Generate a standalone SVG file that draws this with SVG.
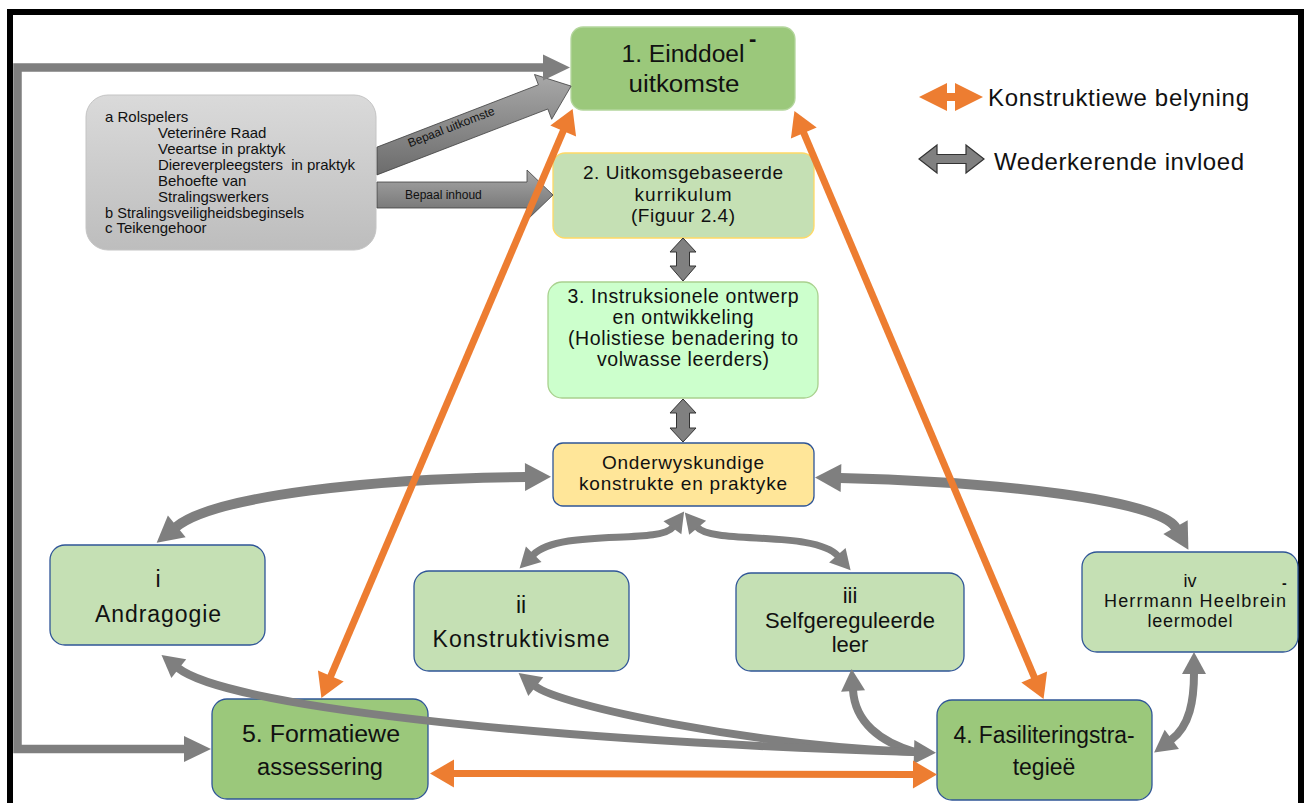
<svg xmlns="http://www.w3.org/2000/svg" width="1309" height="803" viewBox="0 0 1309 803">
  <style>
    text { font-family: "Liberation Sans", Arial, sans-serif; fill: #111; }
    .c { text-anchor: middle; }
    .box { stroke-width: 1.3; }
    .sub { fill: #c5e0b4; stroke: #2f5597; }
    .main { fill: #9bc87b; stroke: #2f5597; }
    .gcurve { fill: none; stroke: #7f7f7f; }
    .orange { fill: none; stroke: #ed7d31; stroke-width: 7; }
    .block { stroke: #3f3f3f; stroke-width: 0.8; }
  </style>
  <defs>
    <linearGradient id="boxGrad" x1="0" y1="0" x2="0" y2="1">
      <stop offset="0" stop-color="#dadada"/>
      <stop offset="1" stop-color="#bdbdbd"/>
    </linearGradient>
    <linearGradient id="blockGrad" x1="0" y1="0" x2="0" y2="1">
      <stop offset="0" stop-color="#a8a8a8"/>
      <stop offset="1" stop-color="#6c6c6c"/>
    </linearGradient>
    <marker id="hgL" markerUnits="userSpaceOnUse" markerWidth="30" markerHeight="30" refX="1" refY="14" orient="auto-start-reverse" overflow="visible">
      <path d="M0,0 L26,14 L0,28 z" fill="#7f7f7f"/>
    </marker>
    <marker id="hgM" markerUnits="userSpaceOnUse" markerWidth="26" markerHeight="26" refX="1" refY="12" orient="auto-start-reverse" overflow="visible">
      <path d="M0,0 L22,12 L0,24 z" fill="#7f7f7f"/>
    </marker>
    <marker id="hgS" markerUnits="userSpaceOnUse" markerWidth="24" markerHeight="24" refX="1" refY="11" orient="auto-start-reverse" overflow="visible">
      <path d="M0,0 L20,11 L0,22 z" fill="#7f7f7f"/>
    </marker>
    <marker id="hgF" markerUnits="userSpaceOnUse" markerWidth="30" markerHeight="30" refX="1" refY="13" orient="auto-start-reverse" overflow="visible">
      <path d="M0,0 L27,13 L0,26 z" fill="#7f7f7f"/>
    </marker>
    <marker id="ho" markerUnits="userSpaceOnUse" markerWidth="28" markerHeight="30" refX="1" refY="14" orient="auto-start-reverse" overflow="visible">
      <path d="M0,0 L24,14 L0,28 z" fill="#ed7d31"/>
    </marker>
  </defs>

  <rect x="0" y="0" width="1309" height="803" fill="#fff"/>
  <!-- outer frame, open at the bottom edge -->
  <rect x="10" y="12" width="1291" height="830" fill="none" stroke="#000" stroke-width="6"/>

  <!-- stakeholders box -->
  <g id="rolspelers">
    <rect x="86" y="95" width="290" height="155" rx="22" fill="url(#boxGrad)" stroke="#c4c4c4" stroke-width="1"/>
    <text font-size="15" x="105" y="122">a Rolspelers</text>
    <text font-size="15" x="158" y="138">Veterinêre Raad</text>
    <text font-size="15" x="158" y="154">Veeartse in praktyk</text>
    <text font-size="15" x="158" y="170" xml:space="preserve" textLength="197">Diereverpleegsters  in praktyk</text>
    <text font-size="15" x="158" y="186">Behoefte van</text>
    <text font-size="15" x="158" y="202">Stralingswerkers</text>
    <text font-size="15" x="105" y="218" textLength="199" lengthAdjust="spacingAndGlyphs">b Stralingsveiligheidsbeginsels</text>
    <text font-size="15" x="105" y="233">c Teikengehoor</text>
  </g>

  <g id="n1">
    <rect class="box" x="571" y="27" width="224" height="83" rx="12" fill="#9bc87b" stroke="#b4d69d"/>
    <text class="c" font-size="23" x="683" y="62" textLength="123" lengthAdjust="spacingAndGlyphs">1. Einddoel</text>
    <text font-size="22" font-weight="bold" x="749" y="46">-</text>
    <text class="c" font-size="23" x="684" y="92" textLength="111" lengthAdjust="spacingAndGlyphs">uitkomste</text>
  </g>

  <g id="n2">
    <rect class="box" x="553" y="153" width="261" height="85" rx="12" fill="#c5e0b4" stroke="#ffd966"/>
    <text class="c" font-size="19" x="683" y="179" textLength="200">2. Uitkomsgebaseerde</text>
    <text class="c" font-size="19" x="683" y="201" textLength="97">kurrikulum</text>
    <text class="c" font-size="19" x="683" y="222" textLength="104">(Figuur 2.4)</text>
  </g>

  <g id="n3">
    <rect class="box" x="548" y="282" width="270" height="116" rx="14" fill="#ccffcc" stroke="#a9d18e"/>
    <text class="c" font-size="19.5" x="683" y="303" textLength="231">3. Instruksionele ontwerp</text>
    <text class="c" font-size="19.5" x="683" y="324" textLength="141">en ontwikkeling</text>
    <text class="c" font-size="19.5" x="683" y="345" textLength="230">(Holistiese benadering to</text>
    <text class="c" font-size="19.5" x="683" y="366" textLength="172">volwasse leerders)</text>
  </g>

  <g id="onderwys">
    <rect class="box" x="553" y="443" width="261" height="63" rx="10" fill="#ffe699" stroke="#2f5597"/>
    <text class="c" font-size="19" x="683" y="469" textLength="162">Onderwyskundige</text>
    <text class="c" font-size="19" x="683" y="490" textLength="208">konstrukte en praktyke</text>
  </g>

  <g id="andragogie">
    <rect class="box sub" x="50" y="545" width="215" height="100" rx="15"/>
    <text class="c" font-size="23" x="158" y="587">i</text>
    <text class="c" font-size="23" x="158" y="622" textLength="126">Andragogie</text>
  </g>

  <g id="konstruktivisme">
    <rect class="box sub" x="414" y="571" width="215" height="100" rx="15"/>
    <text class="c" font-size="23" x="521" y="613">ii</text>
    <text class="c" font-size="23" x="521" y="647" textLength="177">Konstruktivisme</text>
  </g>

  <g id="selfgereguleerd">
    <rect class="box sub" x="736" y="573" width="228" height="98" rx="15"/>
    <text class="c" font-size="22" x="850" y="603">iii</text>
    <text class="c" font-size="22" x="850" y="628" textLength="170">Selfgereguleerde</text>
    <text class="c" font-size="22" x="850" y="652">leer</text>
  </g>

  <g id="herrmann">
    <rect class="box sub" x="1082" y="552" width="216" height="100" rx="15"/>
    <text class="c" font-size="18" x="1190" y="587">iv</text>
    <text class="c" font-size="18" x="1195" y="607" textLength="182">Herrmann Heelbrein</text>
    <text class="c" font-size="18" x="1190" y="627" textLength="85">leermodel</text>
    <text font-size="14" font-weight="bold" x="1282" y="588">-</text>
  </g>

  <g id="n5">
    <rect class="box main" x="212" y="699" width="216" height="100" rx="15"/>
    <text class="c" font-size="23" x="321" y="742" textLength="158" lengthAdjust="spacingAndGlyphs">5. Formatiewe</text>
    <text class="c" font-size="23" x="320" y="775" textLength="126" lengthAdjust="spacingAndGlyphs">assessering</text>
  </g>

  <g id="n4">
    <rect class="box main" x="937" y="700" width="215" height="100" rx="15"/>
    <text class="c" font-size="23" x="1044" y="743" textLength="181" lengthAdjust="spacingAndGlyphs">4. Fasiliteringstra-</text>
    <text class="c" font-size="23" x="1044" y="775">tegieë</text>
  </g>

  <!-- legend -->
  <g id="legend">
    <polygon points="919,97 947,83 947,93 955,93 955,83 983,97 955,111 955,101 947,101 947,111" fill="#ed7d31"/>
    <text font-size="24" x="988" y="106" textLength="261">Konstruktiewe belyning</text>
    <polygon points="919,159 937,145 937,154.5 966,154.5 966,145 984,159 966,173 966,163.5 937,163.5 937,173" fill="#808080" stroke="#333" stroke-width="1.2"/>
    <text font-size="24" x="994" y="170" textLength="250">Wederkerende invloed</text>
  </g>

  <g id="connectors">
    <!-- block arrows from the stakeholders box -->
    <polygon class="block" fill="url(#blockGrad)" points="377,147.1 538.4,84.8 534.5,74.5 571.1,86.1 551.7,119.3 547.8,109 377,174.9"/>
    <text font-size="12" class="c" transform="translate(453,131.7) rotate(-21.1)" x="0" y="-1">Bepaal uitkomste</text>
    <polygon class="block" fill="url(#blockGrad)" points="377,182 527,182 527,170 553,195 527,220 527,208 377,208"/>
    <text font-size="12" x="405" y="199">Bepaal inhoud</text>

    <!-- reciprocal block arrows on the central column -->
    <polygon fill="#808080" stroke="#333" stroke-width="1" points="683,238 696,252 689.5,252 689.5,266 696,266 683,281 670,266 676.5,266 676.5,252 670,252"/>
    <polygon fill="#808080" stroke="#333" stroke-width="1" points="683,399 696,413 689.5,413 689.5,428 696,428 683,442 670,428 676.5,428 676.5,413 670,413"/>

    <!-- feedback loop around the left side -->
    <path d="M 544 67.5 L 17.5 67.5 L 17.5 749 L 185 749" fill="none" stroke="#7f7f7f" stroke-width="8.5" stroke-linejoin="miter" marker-start="url(#hgF)" marker-end="url(#hgF)"/>

    <!-- reciprocal influences -->
    <path class="gcurve" stroke-width="10" d="M 176 527 C 215 495, 380 478, 526 477" marker-start="url(#hgL)" marker-end="url(#hgL)"/>
    <path class="gcurve" stroke-width="10" d="M 840 478 C 1000 482, 1160 500, 1176 528" marker-start="url(#hgL)" marker-end="url(#hgL)"/>
    <path class="gcurve" stroke-width="7" d="M 673 527 C 660 545, 560 528, 533 555" marker-start="url(#hgS)" marker-end="url(#hgS)"/>
    <path class="gcurve" stroke-width="7" d="M 697 527 C 712 545, 815 530, 838 556" marker-start="url(#hgS)" marker-end="url(#hgS)"/>
    <path class="gcurve" stroke-width="8" d="M 535 686 C 560 706, 750 745, 915 752" marker-start="url(#hgM)"/>
    <path class="gcurve" stroke-width="8" d="M 853 690 C 855 722, 880 742, 915 752" marker-start="url(#hgM)"/>
    <path class="gcurve" stroke-width="8" d="M 178 668 C 225 705, 520 740, 915 752" marker-start="url(#hgM)" marker-end="url(#hgM)"/>
    <path class="gcurve" stroke-width="8" d="M 1194 673 C 1194 700, 1190 726, 1171 740" marker-start="url(#hgM)" marker-end="url(#hgM)"/>

    <!-- constructive alignment -->
    <path class="orange" d="M 330.4 676.9 L 563.6 130.1" marker-start="url(#ho)" marker-end="url(#ho)"/>
    <path class="orange" d="M 803.4 132.1 L 1034.6 677.9" marker-start="url(#ho)" marker-end="url(#ho)"/>
    <path class="orange" d="M 453 773.5 L 914 774.5" marker-start="url(#ho)" marker-end="url(#ho)"/>
  </g>
</svg>
